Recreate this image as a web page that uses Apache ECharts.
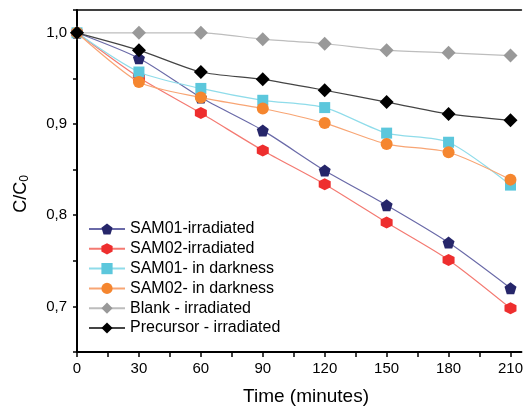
<!DOCTYPE html>
<html>
<head>
<meta charset="utf-8">
<script src="https://cdn.jsdelivr.net/npm/echarts@6/dist/echarts.min.js"></script>
<style>html,body{margin:0;padding:0;background:#fff}#c{width:526px;height:408px}</style>
</head>
<body>
<div id="c"></div>
<script>
var timeMinutes = [0, 30, 60, 90, 120, 150, 180, 210];
var sam01Irradiated = [1.0, 0.972, 0.929, 0.893, 0.849, 0.811, 0.770, 0.720];
var sam02Irradiated = [1.0, 0.951, 0.912, 0.871, 0.834, 0.792, 0.751, 0.698];
var sam01Darkness = [1.0, 0.957, 0.939, 0.926, 0.918, 0.890, 0.880, 0.833];
var sam02Darkness = [1.0, 0.946, 0.929, 0.917, 0.901, 0.878, 0.869, 0.839];
var blankIrradiated = [1.0, 1.0, 1.0, 0.993, 0.988, 0.981, 0.978, 0.975];
var precursorIrradiated = [1.0, 0.981, 0.957, 0.949, 0.937, 0.924, 0.911, 0.904];
var seriesNames = ['SAM01-irradiated', 'SAM02-irradiated', 'SAM01- in darkness', 'SAM02- in darkness', 'Blank - irradiated', 'Precursor - irradiated'];

function pairs(arr) { return timeMinutes.map(function (t, i) { return [t, arr[i]]; }); }

var FONT = '"Liberation Sans", Arial, sans-serif';
var pentagon = 'path://M0,-10L9.51,-3.09L5.88,8.09L-5.88,8.09L-9.51,-3.09Z';
var hexagon = 'path://M0,-10L8.66,-5L8.66,5L0,10L-8.66,5L-8.66,-5Z';

var defs = [
  { data: sam01Irradiated, symbol: pentagon, size: 12, color: '#26266a', line: '#6a6aa8' },
  { data: sam02Irradiated, symbol: hexagon, size: 12, color: '#ee2e2e', line: '#f47a72' },
  { data: sam01Darkness, symbol: 'rect', size: 11, color: '#5cc7dc', line: '#8fdcea' },
  { data: sam02Darkness, symbol: 'circle', size: 12, color: '#f5862f', line: '#f8a574' },
  { data: blankIrradiated, symbol: 'diamond', size: 14, color: '#999999', line: '#bdbdbd' },
  { data: precursorIrradiated, symbol: 'diamond', size: 14, color: '#000000', line: '#444444' }
];

var series = defs.map(function (d, i) {
  return {
    name: seriesNames[i],
    type: 'line',
    xAxisIndex: 0,
    data: pairs(d.data),
    smooth: 0.25,
    symbol: d.symbol,
    symbolSize: d.size,
    itemStyle: { color: d.color },
    lineStyle: { color: d.line, width: 1.2 },
    z: 2 + i
  };
});

var chart = echarts.init(document.getElementById('c'), null, { renderer: 'canvas' });
chart.setOption({
  animation: false,
  backgroundColor: '#fff',
  grid: { left: 77, top: 10, right: 0, bottom: 56, show: false },
  xAxis: [{
    type: 'value', min: 0, max: 215.3, interval: 15,
    axisLine: { lineStyle: { color: '#000', width: 2 } },
    axisTick: { length: 5, lineStyle: { color: '#000', width: 1.5 } },
    splitLine: { show: false },
    axisLabel: {
      color: '#000', fontSize: 15, fontFamily: FONT, margin: 9, showMaxLabel: false,
      formatter: function (v) { return (Math.abs(v - Math.round(v)) < 1e-6 && Math.round(v) % 30 === 0) ? String(Math.round(v)) : ''; }
    }
  }, {
    type: 'value', position: 'top', min: 0, max: 215.3,
    axisLine: { show: true, onZero: false, lineStyle: { color: '#000', width: 1.5 } },
    axisTick: { show: false }, axisLabel: { show: false }, splitLine: { show: false }
  }],
  yAxis: {
    type: 'value', min: 0.65, max: 1.025, interval: 0.05,
    axisLine: { lineStyle: { color: '#000', width: 2 } },
    axisTick: { length: 4, lineStyle: { color: '#000', width: 1.5 } },
    splitLine: { show: false },
    axisLabel: {
      color: '#000', fontSize: 15, fontFamily: FONT, margin: 10,
      formatter: function (v) {
        var k = Math.round(v * 100);
        if (k % 10 !== 0 || Math.abs(v * 100 - k) > 0.01) return '';
        return (k / 100).toFixed(1).replace('.', ',');
      }
    }
  },
  legend: {
    orient: 'vertical', left: 83, top: 216, itemGap: 3.8, itemWidth: 36, itemHeight: 14,
    textStyle: { color: '#000', fontSize: 16, fontFamily: FONT },
    data: seriesNames
  },
  graphic: [
    { type: 'text', x: 306, y: 397, style: { text: 'Time (minutes)', font: '19px ' + FONT, fill: '#000', align: 'center', verticalAlign: 'middle' } },
    {
      type: 'text', x: 21, y: 194, rotation: Math.PI / 2,
      style: {
        text: 'C/C{s|0}', fill: '#000', align: 'center', verticalAlign: 'middle',
        font: '18px ' + FONT,
        rich: { s: { fontSize: 12, fontFamily: FONT, fill: '#000', verticalAlign: 'bottom', padding: [8, 0, 0, 0] } }
      }
    }
  ],
  series: series
});
</script>
</body>
</html>
